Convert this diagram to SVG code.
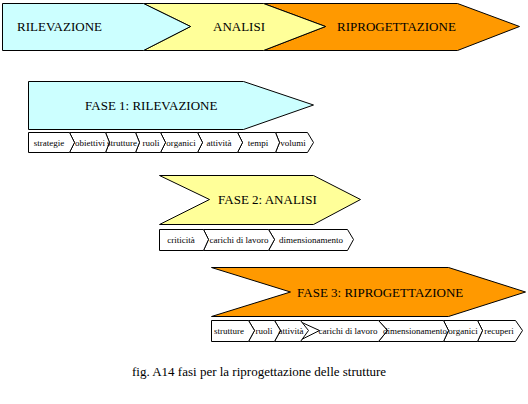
<svg xmlns="http://www.w3.org/2000/svg" width="528" height="404" viewBox="0 0 528 404">
<style>
.s{stroke:#000;stroke-width:1;stroke-linejoin:miter}
.c{fill:#CCFFFF}.y{fill:#FFFF99}.o{fill:#FF9900}.w{fill:#FFFFFF}
.t{font-family:"Liberation Serif","Times New Roman",serif;font-size:13px;fill:#000}
.sm{font-family:"Liberation Serif","Times New Roman",serif;font-size:9px;fill:#000;text-anchor:middle}
</style>
<rect width="528" height="404" fill="#fff"/>
<g id="banner">
<g id="b-riprogettazione"><polygon class="s o" points="263.5,3.5 457.5,3.5 519.5,26.5 457.5,50.5 263.5,50.5 325.5,26.5"/><text class="t" x="337" y="31">RIPROGETTAZIONE</text></g>
<g id="b-analisi"><polygon class="s y" points="143.5,3.5 263.5,3.5 325.5,26.5 263.5,50.5 143.5,50.5 190.5,26.5"/><text class="t" x="213" y="31">ANALISI</text></g>
<g id="b-rilevazione"><polygon class="s c" points="2.5,3.5 143.5,3.5 190.5,26.5 143.5,50.5 2.5,50.5"/><text class="t" x="17" y="31">RILEVAZIONE</text></g>
</g>
<g id="fase1">
<polygon class="s c" points="28.5,81.5 243.5,81.5 313.5,105 243.5,129.5 28.5,129.5"/>
<text class="t" x="85" y="110">FASE 1: RILEVAZIONE</text>
</g>
<g id="fase1-steps">
<polygon class="s w" points="275.5,132.5 307.5,132.5 313.5,142.5 307.5,152.5 275.5,152.5 279.5,142.5"/>
<polygon class="s w" points="237.5,132.5 275.5,132.5 279.5,142.5 275.5,152.5 237.5,152.5 242.5,142.5"/>
<polygon class="s w" points="197.5,132.5 237.5,132.5 242.5,142.5 237.5,152.5 197.5,152.5 202.5,142.5"/>
<polygon class="s w" points="160.5,132.5 197.5,132.5 202.5,142.5 197.5,152.5 160.5,152.5 165.5,142.5"/>
<polygon class="s w" points="135.5,132.5 160.5,132.5 165.5,142.5 160.5,152.5 135.5,152.5 139.5,142.5"/>
<polygon class="s w" points="105.5,132.5 135.5,132.5 139.5,142.5 135.5,152.5 105.5,152.5 109.5,142.5"/>
<polygon class="s w" points="69.5,132.5 105.5,132.5 109.5,142.5 105.5,152.5 69.5,152.5 74.5,142.5"/>
<polygon class="s w" points="28.5,132.5 69.5,132.5 74.5,142.5 69.5,152.5 28.5,152.5"/>
<text class="sm" x="49" y="146">strategie</text>
<text class="sm" x="90" y="146">obiettivi</text>
<text class="sm" x="122" y="146">strutture</text>
<text class="sm" x="151" y="146">ruoli</text>
<text class="sm" x="181" y="146">organici</text>
<text class="sm" x="219" y="146">attività</text>
<text class="sm" x="258" y="146">tempi</text>
<text class="sm" x="293" y="146">volumi</text>
</g>
<g id="fase2">
<polygon class="s y" points="159.5,175.5 313.5,175.5 360.5,199.5 313.5,224.5 159.5,224.5 209.5,199.5"/>
<text class="t" x="218" y="204">FASE 2: ANALISI</text>
</g>
<g id="fase2-steps">
<polygon class="s w" points="268.5,229.5 347.5,229.5 353.5,239.5 347.5,250.5 268.5,250.5 274.5,239.5"/>
<polygon class="s w" points="203.5,229.5 268.5,229.5 274.5,239.5 268.5,250.5 203.5,250.5 208.5,239.5"/>
<polygon class="s w" points="159.5,229.5 203.5,229.5 208.5,239.5 203.5,250.5 159.5,250.5"/>
<text class="sm" x="181" y="243">criticità</text>
<text class="sm" x="239" y="243">carichi di lavoro</text>
<text class="sm" x="311" y="243">dimensionamento</text>
</g>
<g id="fase3">
<polygon class="s o" points="211.5,267.5 448.5,267.5 525.5,292 448.5,316.5 211.5,316.5 290.5,292"/>
<text class="t" x="297" y="297">FASE 3: RIPROGETTAZIONE</text>
</g>
<g id="fase3-steps">
<polygon class="s w" points="477.5,320.5 515.5,320.5 522.5,330.5 515.5,341.5 477.5,341.5 482.5,330.5"/>
<polygon class="s w" points="443.5,320.5 477.5,320.5 482.5,330.5 477.5,341.5 443.5,341.5 448.5,330.5"/>
<polygon class="s w" points="378.5,320.5 443.5,320.5 448.5,330.5 443.5,341.5 378.5,341.5 387.5,330.5"/>
<polygon class="s w" points="297.5,320.5 378.5,320.5 387.5,330.5 378.5,341.5 297.5,341.5 319.5,330.5"/>
<polygon class="s w" points="274.5,320.5 300.5,320.5 308.5,330.5 300.5,341.5 274.5,341.5 280.5,330.5"/>
<polygon class="s w" points="248.5,320.5 274.5,320.5 280.5,330.5 274.5,341.5 248.5,341.5 254.5,330.5"/>
<polygon class="s w" points="211.5,320.5 248.5,320.5 254.5,330.5 248.5,341.5 211.5,341.5"/>
<text class="sm" x="229" y="334">strutture</text>
<text class="sm" x="264" y="334">ruoli</text>
<text class="sm" x="291" y="334">attività</text>
<text class="sm" x="348" y="334">carichi di lavoro</text>
<text class="sm" x="415" y="334">dimensionamento</text>
<text class="sm" x="463" y="334">organici</text>
<text class="sm" x="499" y="334">recuperi</text>
</g>
<text class="t" x="132" y="376">fig. A14 fasi per la riprogettazione delle strutture</text>
</svg>
